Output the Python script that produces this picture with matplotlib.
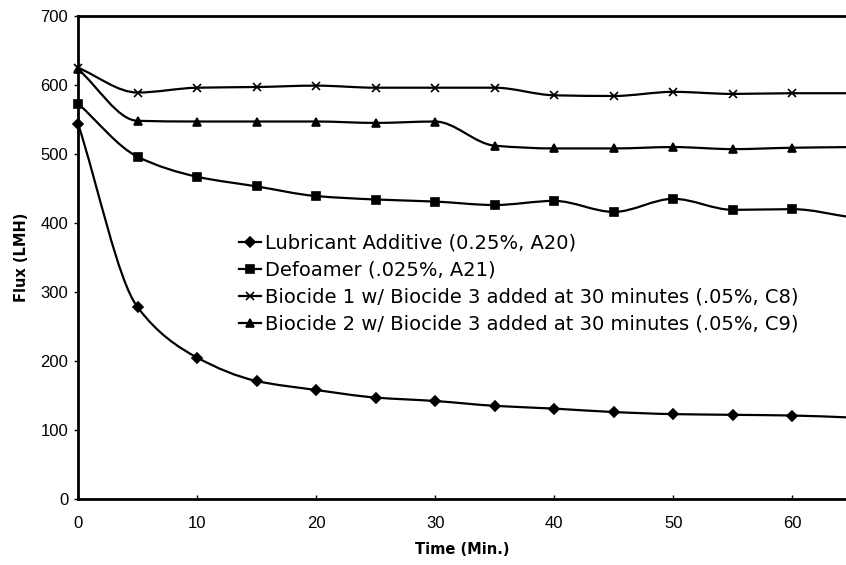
import numpy as np
import matplotlib
matplotlib.use('Agg')
import matplotlib.pyplot as plt
from matplotlib.path import Path
from matplotlib.patches import PathPatch

# Vrijeme (min) i izmjereni fluks (LMH) za svaku seriju
time_min = [0, 5, 10, 15, 20, 25, 30, 35, 40, 45, 50, 55, 60, 65]
lubricant = [544, 278, 205, 171, 158, 147, 142, 135, 131, 126, 123, 122, 121, 118]
defoamer = [573, 496, 467, 453, 439, 434, 431, 426, 432, 416, 435, 419, 420, 408]
biocide1 = [625, 589, 596, 597, 599, 596, 596, 596, 585, 584, 590, 587, 588, 588]
biocide2 = [623, 548, 547, 547, 547, 545, 547, 512, 508, 508, 510, 507, 509, 510]

labels = ['Lubricant Additive (0.25%, A20)',
          'Defoamer (.025%, A21)',
          'Biocide 1 w/ Biocide 3 added at 30 minutes (.05%, C8)',
          'Biocide 2 w/ Biocide 3 added at 30 minutes (.05%, C9)']
markers = ['D', 's', 'x', '^']
msizes = [5, 6, 6, 6]

x_ticks = [0, 10, 20, 30, 40, 50, 60]
y_ticks = [0, 100, 200, 300, 400, 500, 600, 700]


def smooth_path(x, y):
    # glatka krivulja kroz tocke bez "prebacivanja" (monotoni Hermite -> Bezier)
    x = np.asarray(x, float)
    y = np.asarray(y, float)
    h = np.diff(x)
    d = np.diff(y) / h
    m = np.zeros_like(y)
    for i in range(1, len(y) - 1):
        if d[i - 1] * d[i] > 0:
            m[i] = 2.0 / (1.0 / d[i - 1] + 1.0 / d[i])
    m[0] = d[0]
    m[-1] = d[-1]
    verts = [(x[0], y[0])]
    codes = [Path.MOVETO]
    for i in range(len(x) - 1):
        verts += [(x[i] + h[i] / 3, y[i] + m[i] * h[i] / 3),
                  (x[i + 1] - h[i] / 3, y[i + 1] - m[i + 1] * h[i] / 3),
                  (x[i + 1], y[i + 1])]
        codes += [Path.CURVE4] * 3
    return Path(verts, codes)


fig = plt.figure(figsize=(8.46, 5.65), dpi=100)
ax = fig.add_axes([0.0922, 0.1168, 0.9078, 0.855])

series = [lubricant, defoamer, biocide1, biocide2]
for vals, lab, mk, ms in zip(series, labels, markers, msizes):
    patch = PathPatch(smooth_path(time_min, vals), facecolor='none',
                      edgecolor='black', lw=1.6, zorder=2)
    ax.add_patch(patch)
    ax.plot(time_min, vals, linestyle='none', marker=mk, ms=ms, color='black',
            mew=1.2, zorder=3, clip_on=False)
    # element za legendu
    ax.plot([], [], color='black', lw=1.6, marker=mk, ms=ms, mew=1.2, label=lab)

ax.set_xlim(0, 64.5)
ax.set_ylim(0, 700)
ax.set_xticks(x_ticks)
ax.set_yticks(y_ticks)
ax.tick_params(axis='y', direction='out', length=3, width=1, labelsize=12, pad=4)
ax.tick_params(axis='x', direction='in', length=3, width=1, labelsize=12, pad=12)
for t in ax.get_xticklabels() + ax.get_yticklabels():
    t.set_family('Liberation Sans')

ax.spines['right'].set_visible(False)
for s in ['left', 'bottom', 'top']:
    ax.spines[s].set_linewidth(2)

ax.set_xlabel('Time (Min.)', fontsize=10.5, fontweight='bold', labelpad=8)
ax.set_ylabel('Flux (LMH)', fontsize=10.5, fontweight='bold', labelpad=8)

ax.legend(loc='upper left', bbox_to_anchor=(0.21, 0.55), frameon=False,
          fontsize=14, handlelength=1.1, handletextpad=0.2, labelspacing=0.42,
          borderpad=0, borderaxespad=0)

plt.savefig('out.png', dpi=100)
